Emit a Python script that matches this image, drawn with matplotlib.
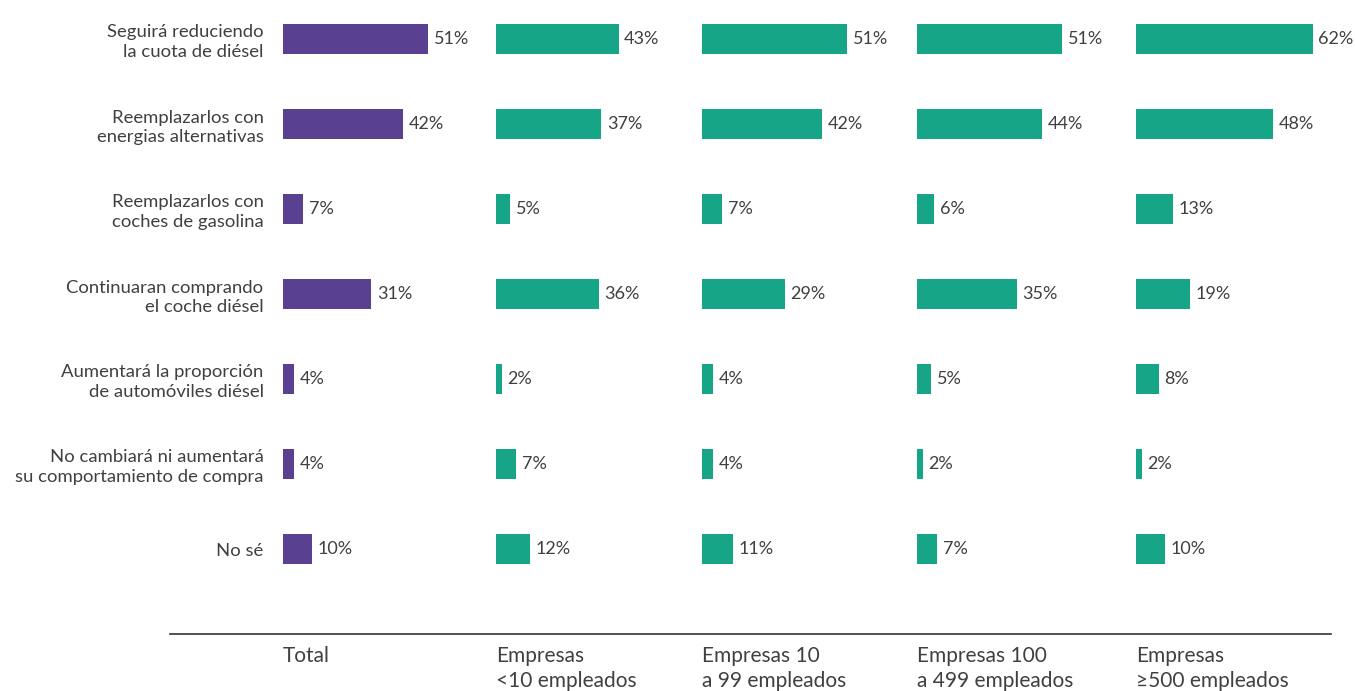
import matplotlib.pyplot as plt
from matplotlib.lines import Line2D

categories = [
    "Seguirá reduciendo\nla cuota de diésel",
    "Reemplazarlos con\nenergias alternativas",
    "Reemplazarlos con\ncoches de gasolina",
    "Continuaran comprando\nel coche diésel",
    "Aumentará la proporción\nde automóviles diésel",
    "No cambiará ni aumentará\nsu comportamiento de compra",
    "No sé",
]
groups = ["Total", "Empresas\n<10 empleados", "Empresas 10\na 99 empleados",
          "Empresas 100\na 499 empleados", "Empresas\n≥500 empleados"]

total = [51, 42, 7, 31, 4, 4, 10]
emp_lt10 = [43, 37, 5, 36, 2, 7, 12]
emp_10_99 = [51, 42, 7, 29, 4, 4, 11]
emp_100_499 = [51, 44, 6, 35, 5, 2, 7]
emp_ge500 = [62, 48, 13, 19, 8, 2, 10]

series = [total, emp_lt10, emp_10_99, emp_100_499, emp_ge500]
colors = ["#5A4091", "#16A687", "#16A687", "#16A687", "#16A687"]

plt.rcParams["font.family"] = ["Lato", "DejaVu Sans"]
text_color = "#404040"

W, H = 1355, 691
fig = plt.figure(figsize=(W / 100, H / 100), dpi=100)

panel_left = [283, 496, 702, 917, 1136]
px_per_pct = 2.85
xmax = 70
row0, step = 39, 85
top_px, bottom_px = 0, 600

for k, (vals, col) in enumerate(zip(series, colors)):
    left = panel_left[k] / W
    width = xmax * px_per_pct / W
    ax = fig.add_axes([left, 1 - bottom_px / H, width, (bottom_px - top_px) / H])
    y = list(range(len(categories)))
    ax.barh(y, vals, height=30 / step, color=col)
    for yi, v in zip(y, vals):
        ax.annotate(f"{v}%", (v, yi), xytext=(4, 0), textcoords="offset points",
                    va="center", ha="left", fontsize=13, color=text_color)
    ax.set_xlim(0, xmax)
    ax.set_ylim((bottom_px - row0) / step, (top_px - row0) / step)
    ax.set_xticks([])
    for s in ax.spines.values():
        s.set_visible(False)
    ax.patch.set_alpha(0)
    if k == 0:
        ax.set_yticks(y)
        ax.set_yticklabels(categories, fontsize=13.3, color=text_color,
                           linespacing=1.3, ha="right", multialignment="right")
        ax.tick_params(axis="y", length=0, pad=14)
    else:
        ax.set_yticks([])

fig.add_artist(Line2D([170 / W, 1331 / W], [1 - 634 / H, 1 - 634 / H],
                      color="#333333", linewidth=1.2))

for k, g in enumerate(groups):
    fig.text(panel_left[k] / W, 1 - 646 / H, g, ha="left", va="top",
             fontsize=15, color=text_color, linespacing=1.3)

fig.savefig("out.png", dpi=100)
